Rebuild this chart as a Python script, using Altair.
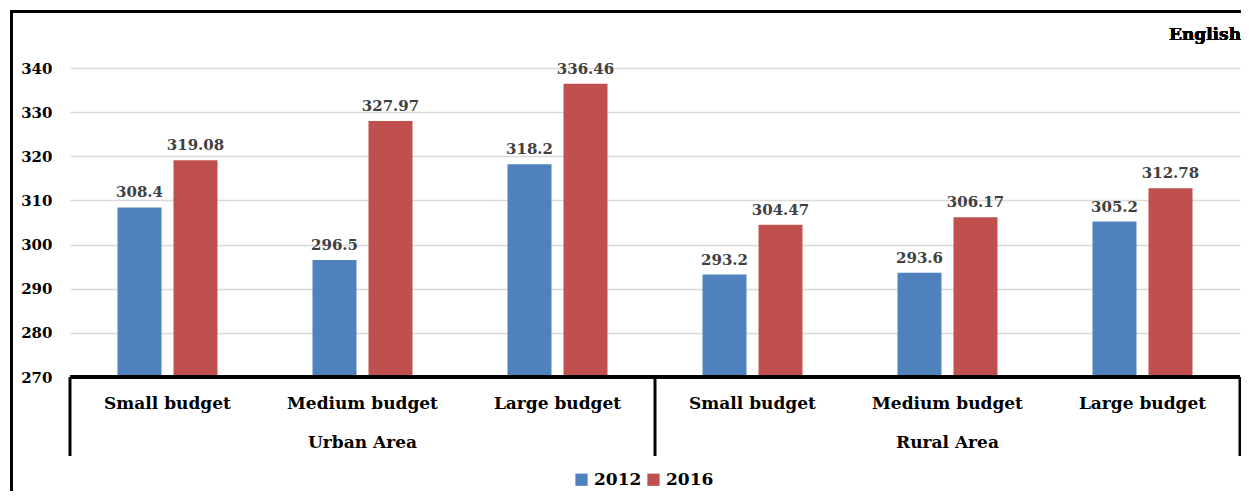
import altair as alt
import pandas as pd

areas = ["Urban Area", "Urban Area", "Urban Area", "Rural Area", "Rural Area", "Rural Area"]
budgets = ["Small budget", "Medium budget", "Large budget", "Small budget", "Medium budget", "Large budget"]
years = ["2012", "2016"]
v2012 = [308.4, 296.5, 318.2, 293.2, 293.6, 305.2]
v2016 = [319.08, 327.97, 336.46, 304.47, 306.17, 312.78]
y_ticks = [270, 280, 290, 300, 310, 320, 330, 340]
colors = ["#4F81BD", "#C0504D"]

FONT = "DejaVu Serif"
W, H = 1170, 309

cats = [f"{a}|{b}" for a, b in zip(areas, budgets)]
rows = []
for c, a, b, v1, v2 in zip(cats, areas, budgets, v2012, v2016):
    rows.append({"cat": c, "area": a, "budget": b, "year": "2012", "value": v1, "label": f"{v1:g}"})
    rows.append({"cat": c, "area": a, "budget": b, "year": "2016", "value": v2, "label": f"{v2:g}"})
df = pd.DataFrame(rows)
cat_df = pd.DataFrame({"cat": cats, "area": areas, "budget": budgets})

xs = alt.Scale(domain=cats, paddingInner=0, paddingOuter=0)
xo = alt.Scale(domain=years, paddingInner=0.2143, paddingOuter=0.848)
ys = alt.Scale(domain=[270, 340], zero=False, nice=False)

base = alt.Chart(df)

bars = base.mark_bar().encode(
    x=alt.X("cat:N", scale=xs, axis=None, sort=cats),
    xOffset=alt.XOffset("year:N", scale=xo, sort=years),
    y=alt.Y("value:Q", scale=ys, title=None,
            axis=alt.Axis(values=y_ticks, domain=False, ticks=False, grid=True,
                          gridColor="#d9d9d9", gridWidth=1.5,
                          labelFont=FONT, labelFontSize=15, labelFontWeight="bold",
                          labelColor="#000000", labelPadding=18)),
    y2=alt.datum(270),
    color=alt.Color("year:N", sort=years, scale=alt.Scale(domain=years, range=colors),
                    legend=alt.Legend(title=None, orient="none", direction="horizontal",
                                      legendX=503, legendY=403, symbolType="square",
                                      symbolSize=150, symbolStrokeWidth=0,
                                      labelFont=FONT, labelFontSize=17, labelFontWeight="bold",
                                      labelColor="#000000", columnPadding=3, labelOffset=4)),
)

values = base.mark_text(font=FONT, fontSize=15, fontWeight="bold", color="#404040",
                        baseline="bottom", dy=-7).encode(
    x=alt.X("cat:N", scale=xs, sort=cats),
    xOffset=alt.XOffset("year:N", scale=xo, sort=years),
    y=alt.Y("value:Q", scale=ys),
    text="label:N",
)

cat_base = alt.Chart(cat_df)
sub_labels = cat_base.mark_text(font=FONT, fontSize=17, fontWeight="bold", color="#000000",
                                baseline="middle").encode(
    x=alt.X("cat:N", scale=xs, sort=cats),
    y=alt.value(H + 27),
    text="budget:N",
)
grp_labels = cat_base.transform_filter(alt.datum.budget == "Medium budget").mark_text(
    font=FONT, fontSize=17, fontWeight="bold", color="#000000", baseline="middle").encode(
    x=alt.X("cat:N", scale=xs, sort=cats),
    y=alt.value(H + 66),
    text="area:N",
)
sep_start = cat_base.transform_filter(alt.datum.budget == "Small budget").mark_rule(
    color="#000000", strokeWidth=3).encode(
    x=alt.X("cat:N", scale=xs, sort=cats, bandPosition=0),
    y=alt.value(H), y2=alt.value(H + 79),
)
sep_end = cat_base.transform_filter(alt.datum.cat == cats[-1]).mark_rule(
    color="#000000", strokeWidth=3).encode(
    x=alt.X("cat:N", scale=xs, sort=cats, bandPosition=1),
    y=alt.value(H), y2=alt.value(H + 79),
)
x_line = alt.Chart(cat_df).mark_rule(color="#000000", strokeWidth=3).encode(
    x=alt.value(0), x2=alt.value(W), y=alt.value(H))

border_left = alt.Chart(cat_df).mark_rule(color="#000000", strokeWidth=3).encode(
    x=alt.value(-58.5), y=alt.value(-58), y2=alt.value(440))
border_top = alt.Chart(cat_df).mark_rule(color="#000000", strokeWidth=3).encode(
    x=alt.value(-60), x2=alt.value(W + 10), y=alt.value(-56.5))

title = alt.Chart(cat_df).mark_text(font=FONT, fontSize=17, fontWeight="bold", color="#000000",
                                    align="right", baseline="middle", text="English").encode(
    x=alt.value(W + 1), y=alt.value(-33))

chart = alt.layer(
    bars, values, x_line, sep_start, sep_end, sub_labels, grp_labels,
    border_left, border_top, title
).properties(
    width=W, height=H,
    autosize=alt.AutoSizeParams(type="none"),
    padding={"left": 62, "top": 60, "right": 1, "bottom": 114},
    background="#ffffff",
).configure_view(stroke=None)

chart.save("out.html", embed_options={"renderer": "svg", "actions": False})
